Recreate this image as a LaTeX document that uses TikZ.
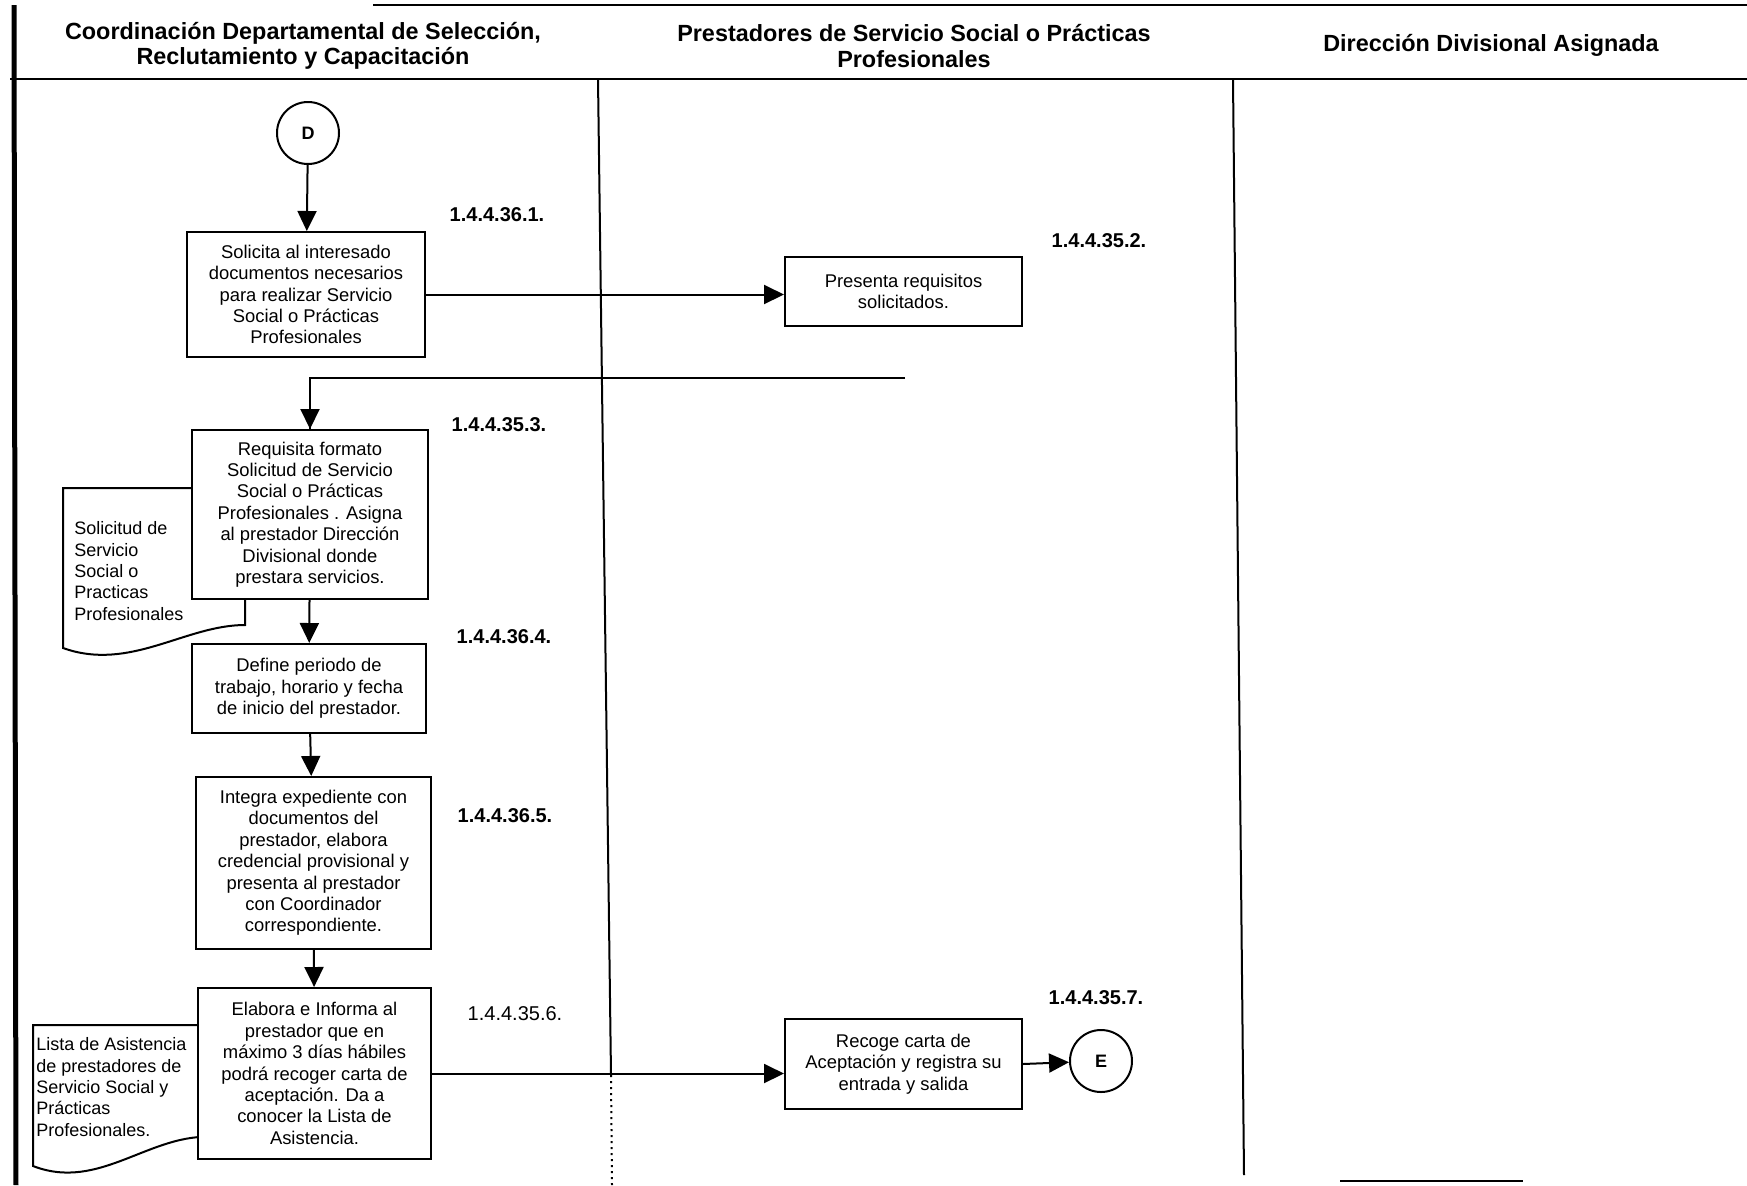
\documentclass[tikz,border=0pt]{standalone}
\usepackage{fontspec}
\setmainfont{Liberation Sans}
\usetikzlibrary{arrows.meta}
\begin{document}
\begin{tikzpicture}[x=0.5pt,y=-0.5pt,
  proc/.style={draw,line width=1pt,fill=white,rectangle,inner sep=0pt,align=center,
    font=\fontsize{9.2}{10.7}\selectfont},
  conn/.style={draw,line width=1pt,fill=white,circle,inner sep=0pt,minimum size=31pt,
    font=\fontsize{9}{10.7}\selectfont\bfseries},
  docshape/.style={draw,line width=1pt,fill=white},
  doctext/.style={anchor=west,align=left,inner sep=0pt,font=\fontsize{9}{10.7}\selectfont},
  lbl/.style={inner sep=0pt,font=\fontsize{10}{12}\selectfont\bfseries},
  lblr/.style={inner sep=0pt,font=\fontsize{10}{12}\selectfont},
  head/.style={inner sep=0pt,align=center,font=\fontsize{11.7}{12.8}\selectfont\bfseries},
  frame/.style={line width=1pt},
  arr/.style={line width=1pt,-{Triangle[length=10pt,width=9.5pt]}}
]
\useasboundingbox (0,0) rectangle (1747,1185);

% frame and lanes
\draw[frame] (373,5) -- (1747,5);
\draw[frame] (10,79) -- (1747,79);
\draw[line width=2.5pt] (14,5) -- (16,1185);
\draw[frame] (598,79) -- (611,1075);
\draw[frame,dotted] (611,1075) -- (612,1185);
\draw[frame] (1233,79) -- (1244,1175);
\draw[frame] (1340,1181) -- (1523,1181);

% headers
\node[head] (h1) at (303,46) {Coordinación Departamental de Selección,\\Reclutamiento y Capacitación};
\node[head] (h2) at (914,46) {Prestadores de Servicio Social o Prácticas\\Profesionales};
\node[head] (h3) at (1491,45) {Dirección Divisional Asignada};

% documents (behind boxes)
\path[docshape] (63,488) -- (245,488) -- (245,625)
  .. controls (185,625) and (130,672) .. (63,648) -- cycle;
\node[doctext] (d1) at (74,571) {Solicitud de\\Servicio\\Social o\\Practicas\\Profesionales};

\path[docshape] (33,1025) -- (215,1025) -- (215,1137)
  .. controls (150,1132) and (100,1192) .. (33,1166) -- cycle;
\node[doctext] (d2) at (36,1087) {Lista de Asistencia\\de prestadores de\\Servicio Social y\\Prácticas\\Profesionales.};

% connectors circle
\node[conn] (D) at (308,133) {D};
\node[conn] (E) at (1101,1061) {E};

% process boxes
\node[proc,minimum width=119pt,minimum height=62.5pt] (b1) at (306,294.5)
  {Solicita al interesado\\documentos necesarios\\para realizar Servicio\\Social o Prácticas\\Profesionales};
\node[proc,minimum width=118.5pt,minimum height=34.5pt] (b2) at (903.5,291.5)
  {Presenta requisitos\\solicitados.};
\node[proc,minimum width=118pt,minimum height=84.5pt] (b3) at (310,514.5)
  {Requisita formato\\Solicitud de Servicio\\Social o Prácticas\\Profesionales . Asigna\\al prestador Dirección\\Divisional donde\\prestara servicios.};
\node[proc,minimum width=117pt,minimum height=44.5pt] (b4) at (309,688.5)
  {Define periodo de\\trabajo, horario y fecha\\de inicio del prestador.};
\node[proc,minimum width=117.5pt,minimum height=86pt] (b5) at (313.5,863)
  {Integra expediente con\\documentos del\\prestador, elabora\\credencial provisional y\\presenta al prestador\\con Coordinador\\correspondiente.};
\node[proc,minimum width=116.5pt,minimum height=85.5pt] (b6) at (314.5,1073.5)
  {Elabora e Informa al\\prestador que en\\máximo 3 días hábiles\\podrá recoger carta de\\aceptación. Da a\\conocer la Lista de\\Asistencia.};
\node[proc,minimum width=118.5pt,minimum height=45pt] (b7) at (903.5,1064)
  {Recoge carta de\\Aceptación y registra su\\entrada y salida};

% step labels
\node[lbl] (l1) at (497,215) {1.4.4.36.1.};
\node[lbl] (l2) at (1099,241) {1.4.4.35.2.};
\node[lbl] (l3) at (499,425) {1.4.4.35.3.};
\node[lbl] (l4) at (504,637) {1.4.4.36.4.};
\node[lbl] (l5) at (505,816) {1.4.4.36.5.};
\node[lblr] (l6) at (515,1014) {1.4.4.35.6.};
\node[lbl] (l7) at (1096,998) {1.4.4.35.7.};

% connectors
\coordinate (r2) at (905,378);
\draw[arr] (D) -- (b1);
\draw[arr] (b1.east) -- (b1.east -| b2.west);
\draw[line width=1pt] (r2) -| ([yshift=-0.1pt]b3.north);
\draw[arr] (b3.north |- r2) -- (b3.north);
\draw[arr] (b3) -- (b4);
\draw[arr] (b4) -- (b5);
\draw[arr] (b5) -- (b6);
\draw[arr] (b6.east) -- (b6.east -| b7.west);
\draw[arr] (b7.east) -- (E);
\end{tikzpicture}
\end{document}
